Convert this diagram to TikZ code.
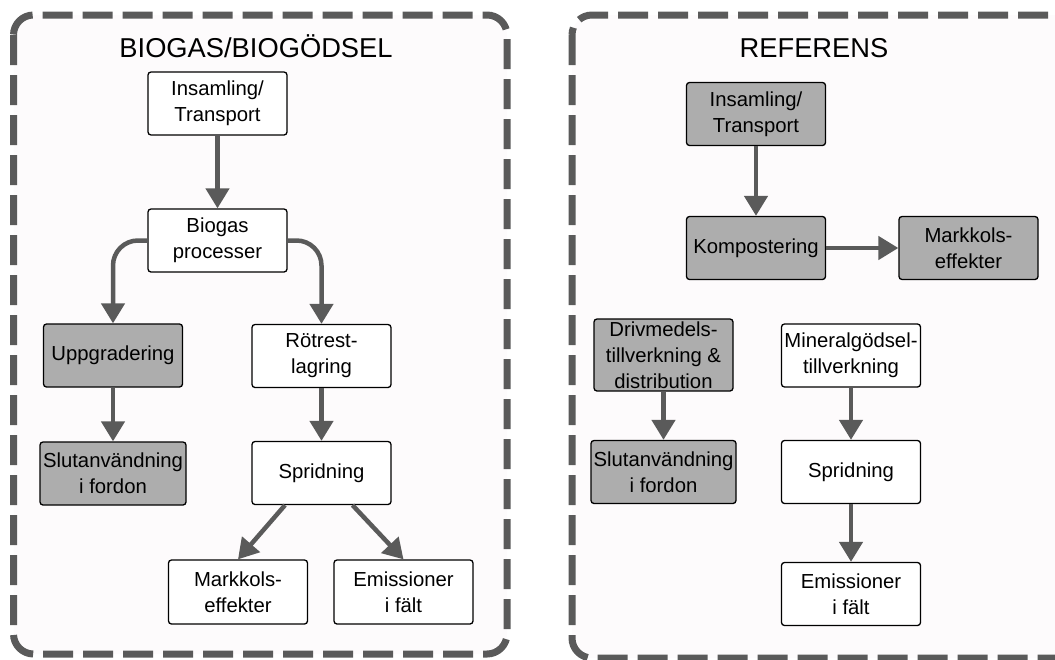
\documentclass[tikz,border=0pt]{standalone}
\usepackage{fontspec}
\setmainfont{Liberation Sans}
\usetikzlibrary{arrows.meta}
\definecolor{dg}{RGB}{90,90,90}
\definecolor{lg}{RGB}{173,173,173}
\definecolor{bgc}{RGB}{253,251,252}
\begin{document}
\begin{tikzpicture}[x=1pt,y=-1pt,
 panel/.style={draw=dg, line width=7pt, dash pattern=on 30pt off 10pt, rounded corners=20pt, fill=bgc},
 box/.style={draw=black, line width=1.3pt, rounded corners=3pt, fill=white, minimum width=139pt, minimum height=63pt, align=center, inner sep=0pt, font=\fontsize{20.3}{26}\selectfont},
 gbox/.style={box, fill=lg},
 ttl/.style={font=\fontsize{27.3}{30}\selectfont, anchor=base, inner sep=0pt},
 arr/.style={draw=dg, line width=4.5pt, -{Triangle[width=23pt,length=20pt]}, rounded corners=25pt}]
\useasboundingbox (0,0) rectangle (1055,659);
\begin{scope}
\clip (0,0) rectangle (1055,659);
\draw[panel] (13.5,15) rectangle (507,654);
\draw[panel] (572,15) rectangle (1090,658);
\end{scope}

% left panel
\node[ttl] (t1) at (256,57.3) {BIOGAS/BIOGÖDSEL};
\node[box] (ins) at (217.5,103.5) {Insamling/\\Transport};
\node[box] (bio) at (217.5,240.5) {Biogas\\processer};
\node[gbox] (upp) at (113,355.5) {Uppgradering};
\node[box] (rot) at (321.5,356) {Rötrest-\\lagring};
\node[gbox, minimum width=146pt] (slu) at (113,473.5) {Slutanvändning\\i fordon};
\node[box] (spr) at (321.5,473) {Spridning};
\node[box, minimum height=64pt] (mk) at (238,592) {Markkols-\\effekter};
\node[box, minimum height=64pt] (em) at (403.5,592) {Emissioner\\i fält};

\draw[arr] (ins) -- (bio);
\draw[arr] (bio.west) -- (113,240.5) -- (upp.north);
\draw[arr] (bio.east) -- (321.5,240.5) -- (rot.north);
\draw[arr] (upp) -- (slu);
\draw[arr] (rot) -- (spr);
\draw[arr] ([xshift=-36.5pt]spr.south) -- (mk.north);
\draw[arr] ([xshift=31pt]spr.south) -- (em.north);

% right panel
\node[ttl] (t2) at (814,57.3) {REFERENS};
\node[gbox] (rins) at (756,114) {Insamling/\\Transport};
\node[gbox] (kom) at (756,248) {Kompostering};
\node[gbox] (rmk) at (968.5,248) {Markkols-\\effekter};
\node[gbox, minimum height=72pt] (driv) at (663.5,355) {Drivmedels-\\tillverkning \&\\distribution};
\node[gbox, minimum width=145pt] (rslu) at (663.5,472) {Slutanvändning\\i fordon};
\node[box] (min) at (851,355.5) {Mineralgödsel-\\tillverkning};
\node[box] (rspr) at (851,472) {Spridning};
\node[box] (rem) at (851,594) {Emissioner\\i fält};

\draw[arr] (rins) -- (kom);
\draw[arr] (kom) -- (rmk);
\draw[arr] (driv) -- (rslu);
\draw[arr] (min) -- (rspr);
\draw[arr] (rspr) -- (rem);
\end{tikzpicture}
\end{document}
